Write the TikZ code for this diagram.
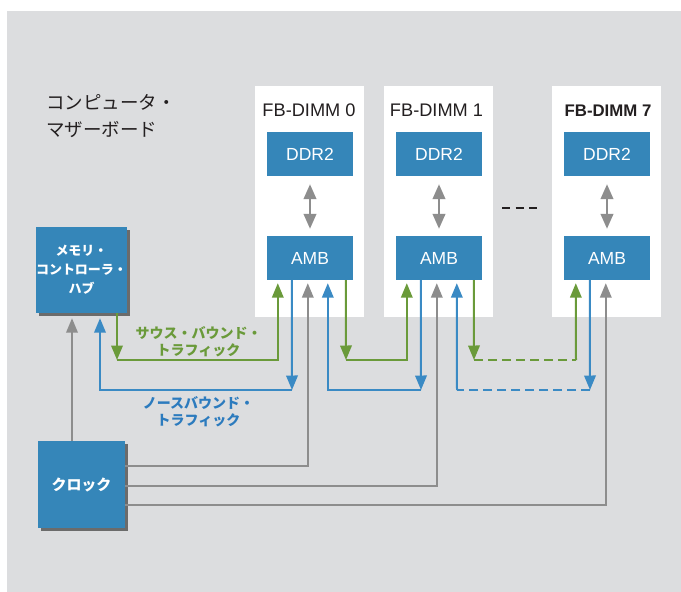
\documentclass[tikz,border=0pt]{standalone}
\usepackage{fontspec}
\setmainfont{Liberation Sans}
\newfontfamily\jp{Noto Sans CJK JP}
\usetikzlibrary{arrows.meta,shadows}

\definecolor{bgGray}{HTML}{DCDDDF}
\definecolor{boxBlue}{HTML}{3586B9}
\definecolor{sbGreen}{HTML}{6A9A3A}
\definecolor{nbBlue}{HTML}{3A8AC4}
\definecolor{nbText}{HTML}{2C7BBE}
\definecolor{clkGray}{HTML}{8D8D8D}
\definecolor{inkDark}{HTML}{231F20}

\begin{document}
\begin{tikzpicture}[x=1pt,y=-1pt,
  panel/.style={fill=white, draw=none, minimum width=109pt, minimum height=231pt, inner sep=0},
  chip/.style={fill=boxBlue, text=white, minimum width=86pt, minimum height=44pt, inner sep=0,
    font=\fontsize{17.5}{20}\selectfont},
  hub/.style={fill=boxBlue, text=white, minimum width=87pt, minimum height=86pt, inner sep=0,
    align=center, drop shadow={shadow xshift=2.5pt, shadow yshift=-2.5pt, fill=black!58, opacity=1}},
  ptitle/.style={inner sep=0, text=inkDark, font=\fontsize{18.2}{20}\selectfont},
  headend/.style={-{Triangle[length=14.5pt,width=11.5pt]}},
  sb/.style={draw=sbGreen, line width=2pt},
  nb/.style={draw=nbBlue, line width=2pt},
  clk/.style={draw=clkGray, line width=2pt},
  link/.style={draw=clkGray, line width=2.5pt,
    {Triangle[length=15pt,width=12.5pt]}-{Triangle[length=15pt,width=12.5pt]},
    shorten <=8pt, shorten >=7pt},
  gap/.style={shorten >=3pt},
  hop/.style={dash pattern=on 9pt off 5pt},
  tlabel/.style={inner sep=0, align=center, font=\jp\bfseries\fontsize{14}{17}\selectfont}
]
% canvas
\fill[white] (0,0) rectangle (681,592);
\fill[bgGray] (7,11) rectangle (681,592);
\useasboundingbox (0,0) rectangle (681,592);

% FB-DIMM modules
\node[panel] (p0) at (309.5,201.5) {};
\node[panel] (p1) at (438.5,201.5) {};
\node[panel] (p7) at (606.5,201.5) {};
\node[ptitle] (t0) at (309,110.5) {FB-DIMM 0};
\node[ptitle] (t1) at (436.5,110.5) {FB-DIMM 1};
\node[ptitle, font=\bfseries\fontsize{16.8}{20}\selectfont] (t7) at (608,110.5) {FB-DIMM 7};

% chips sit slightly above their text baseline
\node[chip] (ddr0) at (310,154) {\raisebox{-2pt}{DDR2}};
\node[chip] (ddr1) at (439,154) {\raisebox{-2pt}{DDR2}};
\node[chip] (ddr7) at (607,154) {\raisebox{-2pt}{DDR2}};
\node[chip] (amb0) at (310,258) {\raisebox{-2pt}{AMB}};
\node[chip] (amb1) at (439,258) {\raisebox{-2pt}{AMB}};
\node[chip] (amb7) at (607,258) {\raisebox{-2pt}{AMB}};

\draw[link] (ddr0.south) -- (amb0.north);
\draw[link] (ddr1.south) -- (amb1.north);
\draw[link] (ddr7.south) -- (amb7.north);

% omitted modules
\draw[inkDark, line width=2.5pt, dash pattern=on 8pt off 5.5pt] (502,208) -- (537,208);

% board title
\node[anchor=west, align=left, inner sep=0, text=inkDark, font=\jp\fontsize{18.5}{27}\selectfont]
  (board) at (46,116.5) {コンピュータ・\\マザーボード};

% hub and clock
\node[hub, font=\jp\bfseries\fontsize{13}{19}\selectfont] (mch) at (81.5,270) {メモリ・\\コントローラ・\\ハブ};
\node[hub, minimum height=87pt, font=\jp\bfseries\fontsize{15}{18}\selectfont] (clock) at (81.5,484.5) {クロック};

% traffic labels
\node[tlabel, text=sbGreen] (sblabel) at (198.5,341.5) {サウス・バウンド・\\トラフィック};
\node[tlabel, text=nbText] (nblabel) at (198.5,411.5) {ノースバウンド・\\トラフィック};

% corner points of the channel
\coordinate (g0) at (117,360);
\coordinate (g1) at (346,360);
\coordinate (g2) at (474,360);
\coordinate (g7) at (576,360);
\coordinate (b0) at (292,390);
\coordinate (b1) at (421,390);
\coordinate (b1e) at (457,390);
\coordinate (b7) at (590,390);

% southbound lanes
\draw[sb, headend] ([xshift=35.5pt]mch.south) -- (g0);
\draw[sb, headend, gap] (g0) -| ([xshift=11pt]amb0.south west);
\draw[sb, headend] ([xshift=79pt]amb0.south west) -- (g1);
\draw[sb, headend, gap] (g1) -| ([xshift=11pt]amb1.south west);
\draw[sb, headend] ([xshift=78pt]amb1.south west) -- (g2);
\draw[sb, hop] (g2) -- (g7);
\draw[sb, headend, gap] (g7) -- ([xshift=12pt]amb7.south west);

% northbound lanes
\draw[nb, headend] ([xshift=26pt]amb7.south west) -- (b7);
\draw[nb, hop] (b7) -- (b1e);
\draw[nb, headend, gap] (b1e) -- ([xshift=61pt]amb1.south west);
\draw[nb, headend] ([xshift=25pt]amb1.south west) -- (b1);
\draw[nb, headend, gap] (b1) -| ([xshift=61pt]amb0.south west);
\draw[nb, headend] ([xshift=25pt]amb0.south west) -- (b0);
\draw[nb, headend, shorten >=5pt] (b0) -| ([xshift=18.5pt]mch.south);

% clock distribution
\draw[clk, headend, shorten >=5pt] ([xshift=-9.5pt]clock.north) -- ([xshift=-9.5pt]mch.south);
\draw[clk, headend, gap] ([yshift=-25pt]clock.north east) -| ([xshift=41pt]amb0.south west);
\draw[clk, headend, gap] ([yshift=-45pt]clock.north east) -| ([xshift=41pt]amb1.south west);
\draw[clk, headend, gap] ([yshift=-64pt]clock.north east) -| ([xshift=42pt]amb7.south west);
\end{tikzpicture}
\end{document}
